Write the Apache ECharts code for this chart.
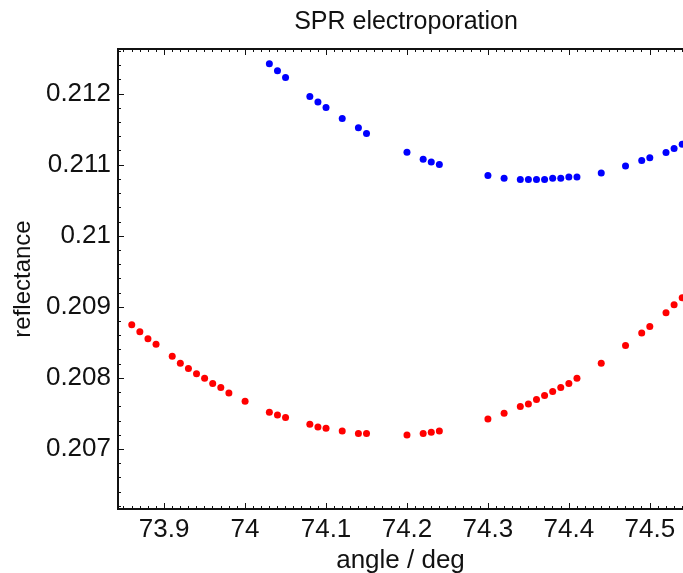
<!DOCTYPE html>
<html>
<head>
<meta charset="utf-8">
<script src="https://cdn.jsdelivr.net/npm/echarts@6/dist/echarts.min.js"></script>
<style>
  html, body { margin: 0; padding: 0; background: #fff; }
  #chart { width: 683px; height: 573px; }
</style>
</head>
<body>
<div id="chart"></div>
<script>
// angle (deg) for each series
const blueAngle = [74.03, 74.04, 74.05, 74.08, 74.09, 74.10, 74.12, 74.14, 74.15, 74.20,
  74.22, 74.23, 74.24, 74.30, 74.32, 74.34, 74.35, 74.36, 74.37, 74.38,
  74.39, 74.40, 74.41, 74.44, 74.47, 74.49, 74.50, 74.52, 74.53, 74.54]
const blueRefl = [0.212423, 0.212324, 0.212230, 0.211962, 0.211883, 0.211807, 0.211652, 0.211521, 0.211441, 0.211179,
  0.211080, 0.211042, 0.211004, 0.210852, 0.210813, 0.210793, 0.210793, 0.210793, 0.210793, 0.210813,
  0.210813, 0.210831, 0.210831, 0.210887, 0.210986, 0.211061, 0.211099, 0.211173, 0.211230, 0.211292]

const redAngle = [73.86, 73.87, 73.88, 73.89, 73.91, 73.92, 73.93, 73.94, 73.95, 73.96,
  73.97, 73.98, 74.00, 74.03, 74.04, 74.05, 74.08, 74.09, 74.10, 74.12,
  74.14, 74.15, 74.20, 74.22, 74.23, 74.24, 74.30, 74.32, 74.34, 74.35,
  74.36, 74.37, 74.38, 74.39, 74.40, 74.41, 74.44, 74.47, 74.49, 74.50,
  74.52, 74.53, 74.54]
const redRefl = [0.208751, 0.208652, 0.208554, 0.208479, 0.208310, 0.208211, 0.208137, 0.208061, 0.208000, 0.207925,
  0.207869, 0.207793, 0.207676, 0.207521, 0.207483, 0.207446, 0.207352, 0.207314, 0.207296, 0.207258,
  0.207221, 0.207221, 0.207201, 0.207221, 0.207239, 0.207258, 0.207427, 0.207507, 0.207601, 0.207638,
  0.207700, 0.207756, 0.207813, 0.207869, 0.207925, 0.208000, 0.208211, 0.208461, 0.208634, 0.208728,
  0.208920, 0.209032, 0.209131]

// tick labels
const xTicks = [73.9, 74, 74.1, 74.2, 74.3, 74.4, 74.5]
const yTicks = [0.207, 0.208, 0.209, 0.21, 0.211, 0.212]

const X_MIN = 73.843, X_MAX = 74.541
const Y_MIN = 0.20616, Y_MAX = 0.21263

// minor ticks: every 0.01 deg on x, every 0.0002 on y
const xMinor = []
for (let i = 7385; i <= 7454; i++) xMinor.push(i / 100)
const yMinor = []
for (let i = 1031; i <= 1063; i++) yMinor.push(i / 5000)

const FONT = 'Liberation Sans'
const INK = '#111'

function xAxisDef(position, ticks, len, labels) {
  return {
    type: 'value', position: position, min: X_MIN, max: X_MAX,
    axisLine: { show: labels !== null, lineStyle: { color: INK, width: 2 } },
    axisTick: { show: true, inside: true, length: len, customValues: ticks, lineStyle: { color: INK, width: 1 } },
    axisLabel: labels ? { show: true, customValues: ticks, margin: 8, fontSize: 26, fontFamily: FONT, color: INK } : { show: false },
    splitLine: { show: false }
  }
}

function yAxisDef(ticks, len, labels) {
  return {
    type: 'value', position: 'left', min: Y_MIN, max: Y_MAX,
    axisLine: { show: labels, lineStyle: { color: INK, width: 2 } },
    axisTick: { show: true, inside: true, length: len, customValues: ticks, lineStyle: { color: INK, width: 1 } },
    axisLabel: labels ? { show: true, customValues: ticks, margin: 7, fontSize: 26, fontFamily: FONT, color: INK } : { show: false },
    splitLine: { show: false }
  }
}

const chart = echarts.init(document.getElementById('chart'))

const xMain = xAxisDef('bottom', xTicks, 6, true)
xMain.name = 'angle / deg'
xMain.nameLocation = 'middle'
xMain.nameGap = 27
xMain.nameTextStyle = { fontSize: 26, fontFamily: FONT, color: INK }

const yMain = yAxisDef(yTicks, 6, true)
yMain.name = 'reflectance'
yMain.nameLocation = 'middle'
yMain.nameGap = 78
yMain.nameTextStyle = { fontSize: 24, fontFamily: FONT, color: INK }

chart.setOption({
  animation: false,
  backgroundColor: '#fff',
  title: {
    text: 'SPR electroporation',
    left: 401, top: 5, textAlign: 'center',
    textStyle: { fontSize: 25, fontWeight: 'normal', fontFamily: FONT, color: INK }
  },
  grid: { left: 118, right: 0, top: 49, bottom: 64, containLabel: false, outerBoundsMode: 'none' },
  xAxis: [
    xMain,
    xAxisDef('bottom', xMinor, 3, false),
    xAxisDef('top', xTicks, 6, false),
    xAxisDef('top', xMinor, 3, false)
  ],
  yAxis: [
    yMain,
    yAxisDef(yMinor, 3, false)
  ],
  series: [
    {
      type: 'scatter', name: 'blue', symbolSize: 7,
      itemStyle: { color: '#0000ff', opacity: 1 },
      data: blueAngle.map((a, i) => [a, blueRefl[i]])
    },
    {
      type: 'scatter', name: 'red', symbolSize: 7,
      itemStyle: { color: '#ff0000', opacity: 1 },
      data: redAngle.map((a, i) => [a, redRefl[i]])
    }
  ]
})
</script>
</body>
</html>
